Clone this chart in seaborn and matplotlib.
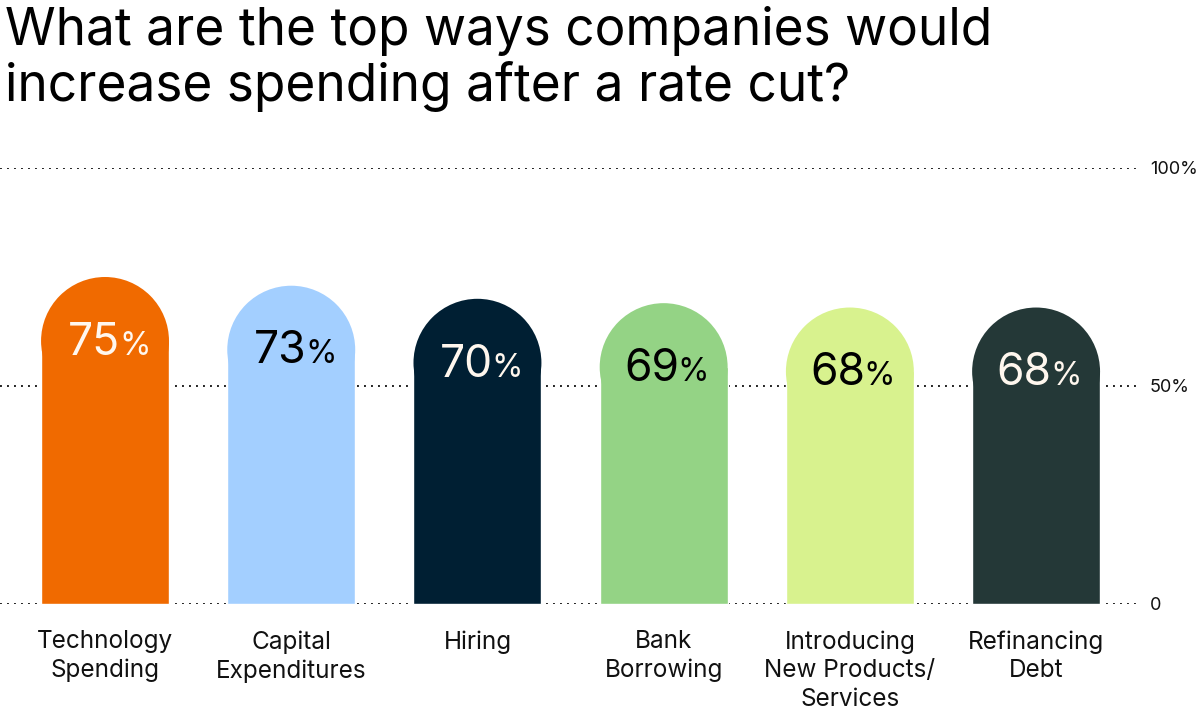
import matplotlib
matplotlib.use("Agg")
import matplotlib.pyplot as plt
from matplotlib.patches import Ellipse
import seaborn as sns

# Data
categories = ["Technology\nSpending", "Capital\nExpenditures", "Hiring",
              "Bank\nBorrowing", "Introducing\nNew Products/\nServices",
              "Refinancing\nDebt"]
values = [75, 73, 70, 69, 68, 68]
bar_colors = ["#F06A00", "#A3CFFF", "#001F33", "#94D385", "#D8F28E", "#243837"]
label_colors = ["#FFF7EE", "#000000", "#FFF7EE", "#000000", "#000000", "#FFF7EE"]
tick_vals = [0, 50, 100]
tick_labels = ["0", "50%", "100%"]
title = "What are the top ways companies would\nincrease spending after a rate cut?"

sns.set_style("white")
plt.rcParams["font.family"] = ["Inter", "DejaVu Sans"]

W, H = 1200, 709
fig = plt.figure(figsize=(W / 100, H / 100), dpi=100)
# axes: x 0..1140 px, y 168..604 px
ax = fig.add_axes([0, (H - 604) / H, 1140 / W, (604 - 168) / H])

sns.barplot(x=categories, y=values, hue=categories, palette=bar_colors,
            legend=False, width=0.687, saturation=1, ax=ax, zorder=3)

ax.set_xlim(-0.564, 5.558)
ax.set_ylim(0, 100)

# rounded tops: shrink each rectangle and cap it with a half ellipse (circle in pixels)
sx = ax.transData.transform((1, 0))[0] - ax.transData.transform((0, 0))[0]
sy = ax.transData.transform((0, 1))[1] - ax.transData.transform((0, 0))[1]
for p, col in zip(list(ax.patches), bar_colors):
    x0, w, h = p.get_x(), p.get_width(), p.get_height()
    ry = (w / 2) * sx / sy
    p.set_height(h - ry)
    p.set_clip_on(False)
    ax.add_patch(Ellipse((x0 + w / 2, h - ry), w, 2 * ry, facecolor=col,
                         edgecolor="none", zorder=3, clip_on=False))

# value labels
for i, (v, c) in enumerate(zip(values, label_colors)):
    ax.annotate(f"{v}", (i, v), xytext=(11, -56), textcoords="offset points",
                ha="right", va="baseline", fontsize=32, color=c, zorder=5)
    ax.annotate("%", (i, v), xytext=(10, -56), textcoords="offset points",
                ha="left", va="baseline", fontsize=23, color=c, zorder=5)

# grid and axes styling
ax.grid(axis="y", linestyle=(0, (1, 2.6)), color="#222222", linewidth=1.4)
ax.grid(axis="x", visible=False)
ax.set_axisbelow(True)
for s in ax.spines.values():
    s.set_visible(False)
ax.yaxis.tick_right()
ax.set_yticks(tick_vals, labels=tick_labels)
ax.tick_params(axis="y", length=0, pad=7, labelsize=13, labelcolor="#111111")
ax.tick_params(axis="x", length=0, pad=19, labelsize=17.5, labelcolor="#111111")
for t in ax.get_xticklabels():
    t.set_linespacing(1.3)
ax.set_xlabel("")
ax.set_ylabel("")

fig.text(5 / W, 1 - 6 / H, title, ha="left", va="top", fontsize=37,
         color="#000000", linespacing=1.12)

fig.savefig("out.png", dpi=100, facecolor="white")
